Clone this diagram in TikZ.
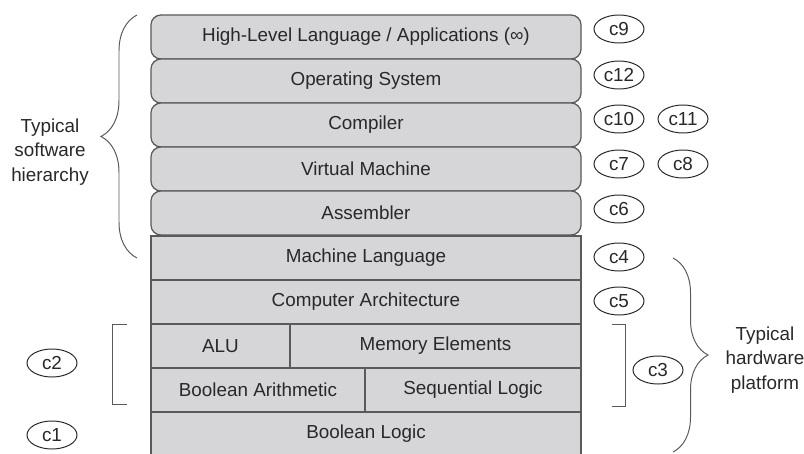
\documentclass[tikz,border=0pt]{standalone}
\usepackage{fontspec}
\setmainfont{Liberation Sans}
\usetikzlibrary{shapes.geometric,decorations.pathreplacing,positioning}

\definecolor{boxfill}{RGB}{214,214,217}
\definecolor{boxline}{RGB}{90,90,90}
\definecolor{ink}{RGB}{40,40,40}

\tikzset{
layer/.style={rectangle,draw=boxline,fill=boxfill,line width=0.9pt,text=ink,inner sep=0pt},
soft/.style={layer,rounded corners=0.25cm,minimum width=10.75cm,minimum height=1.1cm},
hard/.style={layer,minimum height=1.1cm},
tag/.style={ellipse,draw=ink,fill=white,line width=0.7pt,minimum width=1.25cm,minimum height=0.7cm,inner sep=0pt,text=ink},
side/.style={align=center,text=ink},
brk/.style={draw=boxline,line width=0.7pt}
}

\begin{document}
\begin{tikzpicture}[x=0.025cm,y=-0.025cm,font=\fontsize{13.4}{17.2}\selectfont]
\useasboundingbox (0,0) rectangle (804,454);
\node[soft](hll) at (366,37) {High-Level Language / Applications (∞)};
\node[soft](os) at (366,81) {Operating System};
\node[soft](comp) at (366,125) {Compiler};
\node[soft](vm) at (366,169) {Virtual Machine};
\node[soft](asm) at (366,213) {Assembler};
\node[hard](ml) at (366,258) [
minimum width=10.75cm] {Machine Language};
\node[hard](ca) at (366,302) [
minimum width=10.75cm] {Computer Architecture};
\node[hard](alu) at (220.5,346) [
minimum width=3.475cm] {ALU};
\node[hard](mem) at (435.5,346) [
minimum width=7.275cm] {Memory Elements};
\node[hard](barith) at (258,390) [
minimum width=5.35cm] {Boolean Arithmetic};
\node[hard](seq) at (473,390) [
minimum width=5.4cm] {Sequential Logic};
\node[hard](blogic) at (366,434) [
minimum width=10.75cm] {Boolean Logic};
\node[tag](t9) at (619,29) {c9};
\node[tag](t12) at (619,75) {c12};
\node[tag](t10) at (619,119) {c10};
\node[tag](t11) at (683,119) {c11};
\node[tag](t7) at (619,164) {c7};
\node[tag](t8) at (683,164) {c8};
\node[tag](t6) at (619,209) {c6};
\node[tag](t4) at (619,257) {c4};
\node[tag](t5) at (619,301) {c5};
\node[tag](t3) at (658,370) {c3};
\node[tag](t2) at (52,363) {c2};
\node[tag](t1) at (52,435) {c1};
\node[side](swlabel) at (50,152) {Typical\\software\\hierarchy};
\node[side](hwlabel) at (765,360) {Typical\\hardware\\platform};
\coordinate (swtop) at (137,15);
\coordinate (swbot) at (137,258);
\coordinate (hwtop) at (673,258);
\coordinate (hwbot) at (673,452);
\coordinate (lbtop) at (127,324);\coordinate (lbbot) at (127,404);
\coordinate (rbtop) at (612,324);\coordinate (rbbot) at (612,406);
\draw[brk,decorate,decoration={brace,amplitude=0.9cm}] (swbot)--(swtop);
\draw[brk,decorate,decoration={brace,amplitude=0.875cm}] (hwtop)--(hwbot);
\draw[brk] (lbtop)--++(-15,0)|-(lbbot);
\draw[brk] (rbtop)--++(13,0)|-(rbbot);
\end{tikzpicture}
\end{document}
